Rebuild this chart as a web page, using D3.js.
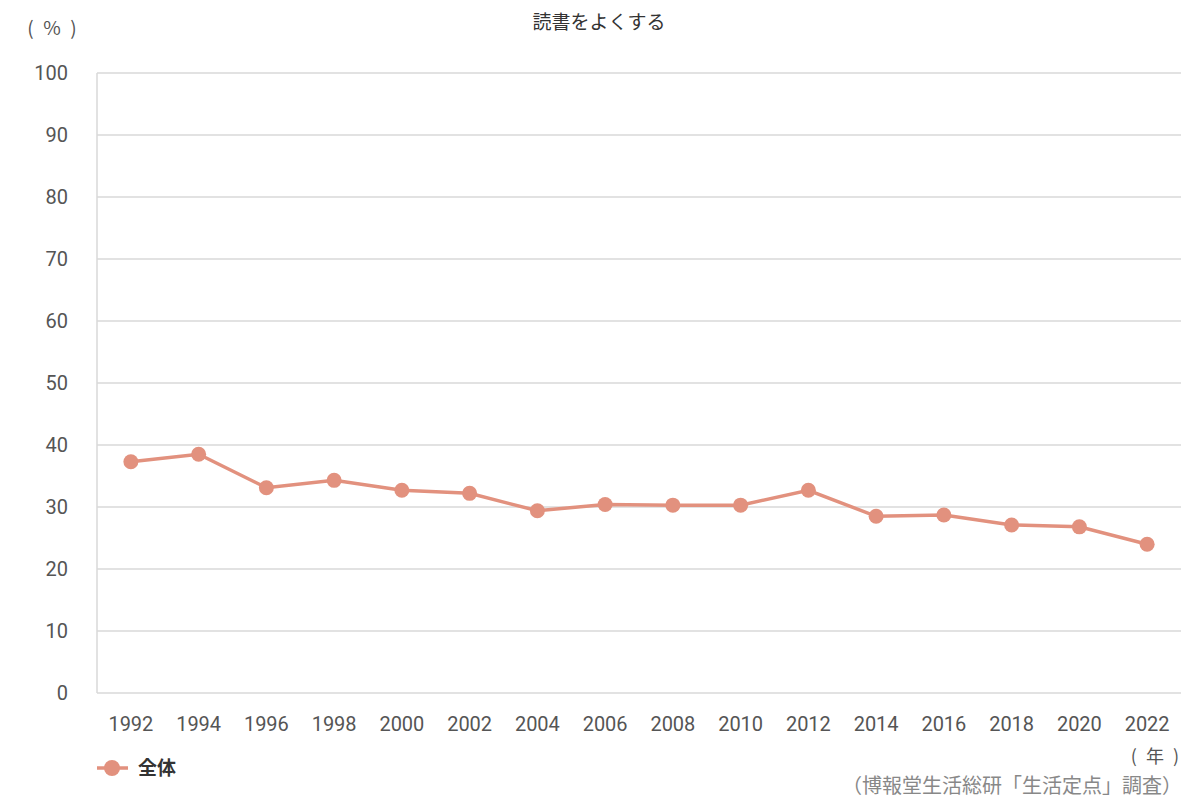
<!DOCTYPE html>
<html><head><meta charset="utf-8">
<script src="https://cdn.jsdelivr.net/npm/d3@7"></script>
<style>body{margin:0;background:#fff;} svg{display:block;}</style>
</head><body>
<svg id="c" width="1200" height="800"></svg>
<script>
const years = ["1992","1994","1996","1998","2000","2002","2004","2006","2008","2010","2012","2014","2016","2018","2020","2022"];
const values = [37.3,38.5,33.1,34.3,32.7,32.2,29.4,30.4,30.3,30.3,32.7,28.5,28.7,27.1,26.8,24.0];
const yTicks = [0,10,20,30,40,50,60,70,80,90,100];
const seriesName = "全体";
const title = "読書をよくする";

const font = "'Roboto','Noto Sans CJK JP',sans-serif";
const jp = "'Noto Sans CJK JP',sans-serif";
const color = "#e2917e";
const svg = d3.select("#c");
const L=97,R=1181,T=73,B=693;
const x = d3.scaleBand().domain(years).range([L,R]);
const y = d3.scaleLinear().domain([0,100]).range([B,T]);

// grid
svg.append("g").selectAll("line").data(yTicks).join("line")
  .attr("x1",L).attr("x2",R).attr("y1",d=>y(d)).attr("y2",d=>y(d))
  .attr("stroke","#d9d9d9").attr("stroke-width",1.5);
svg.append("line").attr("x1",L).attr("x2",L).attr("y1",T).attr("y2",B).attr("stroke","#d9d9d9").attr("stroke-width",1.5);

// y labels
svg.append("g").selectAll("text").data(yTicks).join("text")
  .attr("x",68).attr("y",d=>y(d)).attr("dy","0.35em").attr("text-anchor","end")
  .attr("font-family",font).attr("font-size",20).attr("fill","#555").text(d=>d);
// x labels
svg.append("g").selectAll("text").data(years).join("text")
  .attr("x",d=>x(d)+x.bandwidth()/2).attr("y",724).attr("dy","0.35em").attr("text-anchor","middle")
  .attr("font-family",font).attr("font-size",20).attr("fill","#555").text(d=>d);

// line
const pts = years.map((yr,i)=>({yr,v:values[i]}));
svg.append("path").datum(pts)
  .attr("d",d3.line().x(d=>x(d.yr)+x.bandwidth()/2).y(d=>y(d.v)))
  .attr("fill","none").attr("stroke",color).attr("stroke-width",3.5);
svg.append("g").selectAll("circle").data(pts).join("circle")
  .attr("cx",d=>x(d.yr)+x.bandwidth()/2).attr("cy",d=>y(d.v)).attr("r",7.5).attr("fill",color);

// title and units
svg.append("text").attr("x",599).attr("y",22).attr("dy","0.35em").attr("text-anchor","middle")
  .attr("font-family",jp).attr("font-size",19).attr("fill","#333").text(title);
svg.append("text").attr("x",52).attr("y",28).attr("dy","0.35em").attr("text-anchor","middle")
  .attr("font-family",jp).attr("font-size",19).attr("fill","#555").text("(\u2002%\u2002)");
svg.append("text").attr("x",1179).attr("y",757).attr("dy","0.35em").attr("text-anchor","end")
  .attr("font-family",jp).attr("font-size",18).attr("fill","#555").text("(\u2002年\u2002)");
svg.append("text").attr("x",1182).attr("y",786).attr("dy","0.35em").attr("text-anchor","end")
  .attr("font-family",jp).attr("font-size",20).attr("fill","#888").text("（博報堂生活総研「生活定点」調査）");

// legend
svg.append("line").attr("x1",97).attr("x2",128).attr("y1",768).attr("y2",768).attr("stroke",color).attr("stroke-width",3.5);
svg.append("circle").attr("cx",112).attr("cy",768).attr("r",8).attr("fill",color);
svg.append("text").attr("x",138).attr("y",768).attr("dy","0.35em")
  .attr("font-family",jp).attr("font-size",19).attr("font-weight","bold").attr("fill","#333").text(seriesName);
</script>
</body></html>
